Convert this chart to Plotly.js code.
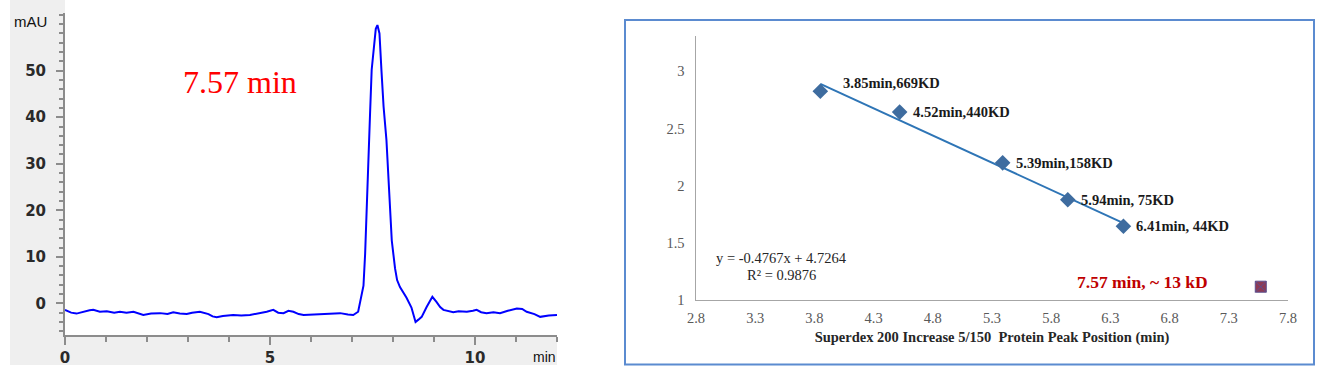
<!DOCTYPE html>
<html>
<head>
<meta charset="utf-8">
<script src="https://cdn.plot.ly/plotly-3.0.1.min.js"></script>
<style>html,body{margin:0;padding:0;background:#fff;}#chart{width:1321px;height:366px;}</style>
</head>
<body>
<div id="chart"></div>
<script>
// ---- Left: chromatogram (UV absorbance vs time) ----
const timeMin = [0,0.15,0.28,0.45,0.6,0.69,0.85,1.02,1.2,1.34,1.5,1.67,1.8,1.91,2.1,2.32,2.5,2.64,2.8,2.97,3.1,3.29,3.5,3.6,3.7,3.85,4.1,4.3,4.51,4.7,4.92,5.08,5.2,5.33,5.45,5.57,5.7,5.82,6.0,6.22,6.45,6.71,6.9,7.03,7.15,7.2,7.28,7.32,7.36,7.40,7.44,7.48,7.54,7.58,7.62,7.67,7.72,7.77,7.84,7.91,7.97,8.05,8.10,8.17,8.25,8.33,8.45,8.55,8.62,8.70,8.82,8.9,8.96,9.06,9.15,9.23,9.35,9.47,9.6,9.8,9.95,10.04,10.15,10.28,10.45,10.61,10.8,11.02,11.15,11.26,11.45,11.59,11.8,12.0];
const mAU = [-1.4,-2.0,-2.2,-1.8,-1.5,-1.4,-1.8,-1.7,-2.0,-1.8,-2.0,-1.8,-2.2,-2.5,-2.2,-2.1,-2.3,-1.9,-2.2,-2.3,-2.0,-1.8,-2.3,-2.8,-3.0,-2.7,-2.5,-2.6,-2.5,-2.2,-1.8,-1.4,-2.0,-2.1,-1.6,-1.8,-2.3,-2.5,-2.4,-2.4,-2.3,-2.1,-2.4,-2.5,-1.8,0.7,3.8,10.6,19.4,30.1,40.7,50.2,56.5,59.0,59.8,58.0,49.8,42.3,35.1,23.0,13.5,7.5,5.0,3.5,2.4,1.2,-0.9,-4.0,-3.5,-2.9,-0.8,0.3,1.4,0.3,-0.8,-1.4,-1.6,-1.9,-1.7,-1.8,-1.6,-1.4,-1.9,-2.1,-1.9,-2.1,-1.6,-1.1,-1.2,-1.8,-2.3,-2.9,-2.6,-2.5];
const yTicks1 = [0, 10, 20, 30, 40, 50];
const xTicks1 = [0, 5, 10];
const peakLabel = "7.57 min";
const peakLabelPos = [4.28, 47.5];

// ---- Right: calibration curve ----
const stdTime = [3.85, 4.52, 5.39, 5.94, 6.41];
const stdKD = [669, 440, 158, 75, 44];
const stdLabels = ["3.85min,669KD", "4.52min,440KD", "5.39min,158KD", "5.94min, 75KD", "6.41min, 44KD"];
const sampleTime = [7.57];
const sampleKD = [13];
const sampleLabel = "7.57 min, ~ 13 kD";
const fitSlope = -0.4767;
const fitIntercept = 4.7264;
const fitR2 = 0.9876;
const xTitle2 = "Superdex 200 Increase 5/150&nbsp; Protein Peak Position (min)";

const stdLogMW = stdKD.map(v => Math.log10(v));
const sampleLogMW = sampleKD.map(v => Math.log10(v));
const fitX = [Math.min(...stdTime), Math.max(...stdTime)];
const fitY = fitX.map(x => fitSlope * x + fitIntercept);

const W = 1321, H = 366;
const px = v => v / W;
const py = v => (H - v) / H;

const traces = [
  {x: timeMin, y: mAU, xaxis: 'x', yaxis: 'y', type: 'scatter', mode: 'lines',
   line: {color: '#0000ff', width: 2}, hoverinfo: 'skip'},
  {x: fitX, y: fitY, xaxis: 'x2', yaxis: 'y2', type: 'scatter', mode: 'lines',
   line: {color: '#2e75b6', width: 2}},
  {x: stdTime, y: stdLogMW, xaxis: 'x2', yaxis: 'y2', type: 'scatter', mode: 'markers',
   marker: {symbol: 'diamond', size: 12, color: '#3e6c9f'}},
  {x: sampleTime, y: sampleLogMW, xaxis: 'x2', yaxis: 'y2', type: 'scatter', mode: 'markers',
   marker: {symbol: 'square-x', size: 11, color: '#8e3a55', line: {color: '#5b4f8f', width: 1}}}
];

const serif = 'Liberation Serif, Times New Roman, serif';
const sans = 'DejaVu Sans, sans-serif';
const annotations = [
  {xref: 'x', yref: 'y', x: peakLabelPos[0], y: peakLabelPos[1], text: peakLabel, showarrow: false,
   font: {family: serif, size: 32, color: '#ff0000'}},
  {xref: 'paper', yref: 'paper', x: px(49), y: py(22), xanchor: 'right', yanchor: 'middle', text: 'mAU', showarrow: false,
   font: {family: 'Liberation Sans, Arial, sans-serif', size: 15, color: '#111'}},
  {xref: 'paper', yref: 'paper', x: px(558), y: py(357), xanchor: 'right', yanchor: 'middle', text: 'min', showarrow: false,
   font: {family: 'Liberation Sans, Arial, sans-serif', size: 14, color: '#111'}},
  {xref: 'x2', yref: 'y2', x: sampleTime[0], y: sampleLogMW[0], xanchor: 'right', yanchor: 'middle', xshift: -51, yshift: 5,
   text: '<b>' + sampleLabel + '</b>', showarrow: false, font: {family: serif, size: 17.5, color: '#c00000'}},
  {xref: 'x2', yref: 'y2', x: 3.526, y: 1.365, xanchor: 'center', yanchor: 'middle',
   text: 'y = ' + fitSlope + 'x + ' + fitIntercept, showarrow: false, font: {family: serif, size: 14.5, color: '#262626'}},
  {xref: 'x2', yref: 'y2', x: 3.526, y: 1.216, xanchor: 'center', yanchor: 'middle',
   text: 'R² = ' + fitR2, showarrow: false, font: {family: serif, size: 14.5, color: '#262626'}}
];
stdTime.forEach((t, i) => {
  annotations.push({xref: 'x2', yref: 'y2', x: t, y: stdLogMW[i], xanchor: 'left', yanchor: 'middle',
    xshift: i === 0 ? 21 : 11, yshift: i === 0 ? 8 : 0, text: '<b>' + stdLabels[i] + '</b>', showarrow: false,
    font: {family: serif, size: 14.5, color: '#1a1a1a'}});
});

const shapes = [
  {type: 'rect', xref: 'paper', yref: 'paper', x0: px(10), x1: px(65), y0: py(365), y1: py(0), fillcolor: '#efefef', line: {width: 0}, layer: 'below'},
  {type: 'rect', xref: 'paper', yref: 'paper', x0: px(10), x1: px(557), y0: py(365), y1: py(335), fillcolor: '#efefef', line: {width: 0}, layer: 'below'},
  {type: 'rect', xref: 'paper', yref: 'paper', x0: px(625), x1: px(1314), y0: py(364.5), y1: py(20), fillcolor: 'rgba(0,0,0,0)', line: {color: '#5b8bd0', width: 2}}
];

const layout = {
  width: W, height: H, margin: {l: 0, r: 0, t: 0, b: 0},
  paper_bgcolor: '#ffffff', plot_bgcolor: 'rgba(0,0,0,0)', showlegend: false,
  xaxis: {domain: [px(65), px(557)], range: [0, 12], anchor: 'y', showline: true, linecolor: '#8c8c8c', linewidth: 2,
    zeroline: false, showgrid: false, ticks: 'outside', tickmode: 'array', tickvals: xTicks1, ticklen: 8, tickwidth: 2, tickcolor: '#8c8c8c',
    minor: {tickmode: 'linear', tick0: 0, dtick: 1, ticks: 'outside', ticklen: 5, tickwidth: 2, tickcolor: '#8c8c8c'},
    tickfont: {family: sans, size: 15, color: '#2a2a2a', weight: 'bold'}, fixedrange: true},
  yaxis: {domain: [py(335), py(13)], range: [-6.8, 62.4], anchor: 'x', showline: true, linecolor: '#8c8c8c', linewidth: 2,
    zeroline: false, showgrid: false, ticks: 'outside', tickmode: 'array', tickvals: yTicks1, ticklen: 7, tickwidth: 2, tickcolor: '#8c8c8c',
    ticklabelstandoff: 7,
    minor: {tickmode: 'linear', tick0: 0, dtick: 2, ticks: 'outside', ticklen: 4, tickwidth: 2, tickcolor: '#8c8c8c'},
    tickfont: {family: sans, size: 15, color: '#2a2a2a', weight: 'bold'}, fixedrange: true},
  xaxis2: {domain: [px(696), px(1288)], range: [2.8, 7.8], anchor: 'y2', showline: true, linecolor: '#a6a6a6', linewidth: 1.5,
    zeroline: false, showgrid: false, ticks: '', tick0: 2.8, dtick: 0.5, ticklabelstandoff: 4,
    tickfont: {family: serif, size: 14.5, color: '#595959'},
    title: {text: '<b>' + xTitle2 + '</b>', font: {family: serif, size: 14.5, color: '#262626'}, standoff: 7}},
  yaxis2: {domain: [py(299.7), py(36)], range: [1, 3.31], anchor: 'x2', showline: true, linecolor: '#a6a6a6', linewidth: 1.5,
    zeroline: false, showgrid: false, ticks: '', tick0: 1, dtick: 0.5, ticklabelstandoff: 7,
    tickfont: {family: serif, size: 14.5, color: '#595959'}},
  annotations: annotations, shapes: shapes
};

Plotly.newPlot('chart', traces, layout, {staticPlot: true, displayModeBar: false});
</script>
</body>
</html>
